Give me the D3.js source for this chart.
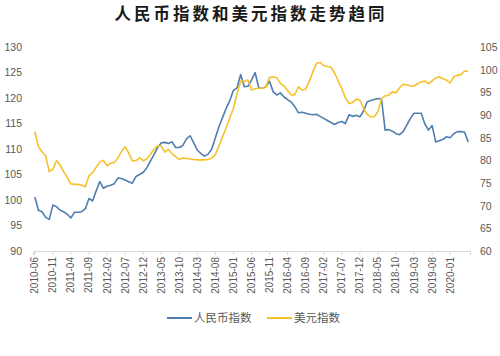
<!DOCTYPE html>
<html><head><meta charset="utf-8">
<script src="https://cdn.jsdelivr.net/npm/d3@7"></script>
<style>
body{margin:0;background:#fff;}
svg{display:block;}
</style></head>
<body>
<svg id="c" width="500" height="356"></svg>
<script>
const title = "人民币指数和美元指数走势趋同";
const seriesNames = ["人民币指数", "美元指数"];
const startMonth = "2010-06";
const tickLabels = ["2010-06","2010-11","2011-04","2011-09","2012-02","2012-07","2012-12","2013-05","2013-10","2014-03","2014-08","2015-01","2015-06","2015-11","2016-04","2016-09","2017-02","2017-07","2017-12","2018-05","2018-10","2019-03","2019-08","2020-01"];
const leftTicks = [90,95,100,105,110,115,120,125,130];
const rightTicks = [60,65,70,75,80,85,90,95,100,105];

const rmb = [100.6,98.0,97.7,96.6,96.2,99.0,98.7,98.0,97.7,97.2,
96.5,97.6,97.6,97.7,98.3,100.3,99.8,101.8,103.6,102.3,
102.7,102.9,103.2,104.3,104.2,103.9,103.6,103.3,104.6,105.0,
105.4,106.3,107.6,108.9,110.3,111.2,111.3,111.1,111.4,110.3,
110.3,110.7,112.0,112.6,111.2,109.8,109.1,108.6,109.0,110.0,
112.2,114.4,116.2,118.0,119.5,121.5,122.0,124.6,122.2,122.3,
123.5,125.0,122.0,121.9,122.2,123.3,121.2,120.6,121.0,120.2,
119.7,119.2,118.3,117.1,117.2,117.0,116.8,116.7,116.8,116.4,
116.0,115.6,115.2,114.8,115.2,115.4,115.0,116.7,116.4,116.6,
116.3,117.4,119.2,119.5,119.7,119.9,119.8,113.7,113.8,113.5,
113.0,112.8,113.4,114.7,116.0,117.0,117.0,117.0,114.9,113.7,
114.6,111.4,111.6,111.9,112.4,112.2,113.0,113.4,113.4,113.3,
111.4];

const usd = [86.3,83.0,81.9,81.0,77.5,78.0,79.9,79.0,77.5,76.2,
74.8,74.7,74.7,74.5,74.2,76.6,77.3,78.5,79.6,80.0,
78.8,79.4,79.5,80.5,82.0,83.0,81.6,79.9,79.9,80.6,
79.9,80.3,81.3,82.5,83.2,83.2,81.8,82.4,81.5,80.8,
80.2,80.5,80.4,80.3,80.2,80.1,80.1,80.1,80.2,80.5,
81.3,83.2,85.2,87.2,89.4,91.5,94.7,97.5,97.4,97.7,
95.5,95.8,95.9,95.9,96.2,98.3,98.4,98.2,97.0,96.4,
95.4,94.4,94.5,96.2,95.5,95.7,97.4,99.5,101.4,101.6,
100.9,100.7,100.6,99.3,97.5,95.8,93.8,92.5,92.8,93.5,
93.3,91.5,90.2,89.6,89.6,90.8,93.6,94.2,94.4,95.1,
94.9,96.0,96.8,96.6,96.4,96.4,96.9,97.3,97.5,96.9,
97.5,98.2,98.4,98.0,97.7,97.1,98.4,98.8,98.9,99.7,
99.6];

const parse = d3.timeParse("%Y-%m");
const fmt = d3.timeFormat("%Y-%m");
const start = parse(startMonth);
const categories = rmb.map((_, i) => fmt(d3.timeMonth.offset(start, i)));

const svg = d3.select("#c");
const W = 500, H = 356;
const plot = {left: 33, right: 470, top: 47, bottom: 251};

const x = d3.scaleBand().domain(categories).range([plot.left, plot.right]);
const yL = d3.scaleLinear().domain([90,130]).range([plot.bottom, plot.top]);
const yR = d3.scaleLinear().domain([60,105]).range([plot.bottom, plot.top]);
const cx = c => x(c) + x.bandwidth()/2;

const numFont = "'Liberation Sans', Arial, sans-serif";
const cjkFont = "'Noto Sans CJK SC', sans-serif";

svg.append("text").attr("x", W/2 + 1).attr("y", 20)
  .attr("text-anchor", "middle")
  .attr("font-family", cjkFont).attr("font-weight", "bold")
  .attr("font-size", 16.5).attr("letter-spacing", "3px")
  .attr("fill", "#1a1a1a").text(title);

// left axis
const gl = svg.append("g").attr("transform", `translate(${plot.left - 11},0)`)
  .call(d3.axisLeft(yL).tickValues(leftTicks).tickSize(0).tickPadding(0));
gl.select(".domain").remove();
gl.selectAll("text").attr("font-family", numFont).attr("font-size", 10.5).attr("fill", "#595959");

// right axis
const gr = svg.append("g").attr("transform", `translate(${plot.right + 10},0)`)
  .call(d3.axisRight(yR).tickValues(rightTicks).tickSize(0).tickPadding(0));
gr.select(".domain").remove();
gr.selectAll("text").attr("font-family", numFont).attr("font-size", 10.5).attr("fill", "#595959");

// bottom axis
const gb = svg.append("g").attr("transform", `translate(0,${plot.bottom})`)
  .call(d3.axisBottom(x).tickValues(tickLabels).tickSize(4).tickPadding(3));
gb.select(".domain").attr("stroke", "#d9d9d9");
gb.selectAll(".tick line").attr("stroke", "#d9d9d9");
gb.selectAll("text")
  .attr("font-family", numFont).attr("font-size", 10).attr("fill", "#595959")
  .attr("text-anchor", "end")
  .attr("transform", "rotate(-90)")
  .attr("x", -6).attr("y", 0).attr("dy", "0.35em");

const blue = "#4f7db0", gold = "#f5c22b";

svg.append("path").datum(rmb)
  .attr("fill", "none").attr("stroke", blue).attr("stroke-width", 1.6)
  .attr("stroke-linejoin", "round")
  .attr("d", d3.line().x((d,i) => cx(categories[i])).y(d => yL(d)));

svg.append("path").datum(usd)
  .attr("fill", "none").attr("stroke", gold).attr("stroke-width", 1.6)
  .attr("stroke-linejoin", "round")
  .attr("d", d3.line().x((d,i) => cx(categories[i])).y(d => yR(d)));

// legend
const legendItems = [{name: seriesNames[0], color: blue, x: 167}, {name: seriesNames[1], color: gold, x: 267}];
const lg = svg.append("g");
legendItems.forEach(it => {
  lg.append("line").attr("x1", it.x).attr("x2", it.x + 25).attr("y1", 318).attr("y2", 318)
    .attr("stroke", it.color).attr("stroke-width", 2);
  lg.append("text").attr("x", it.x + 27).attr("y", 322)
    .attr("font-family", cjkFont).attr("font-size", 11.5).attr("fill", "#595959").text(it.name);
});
</script>
</body></html>
